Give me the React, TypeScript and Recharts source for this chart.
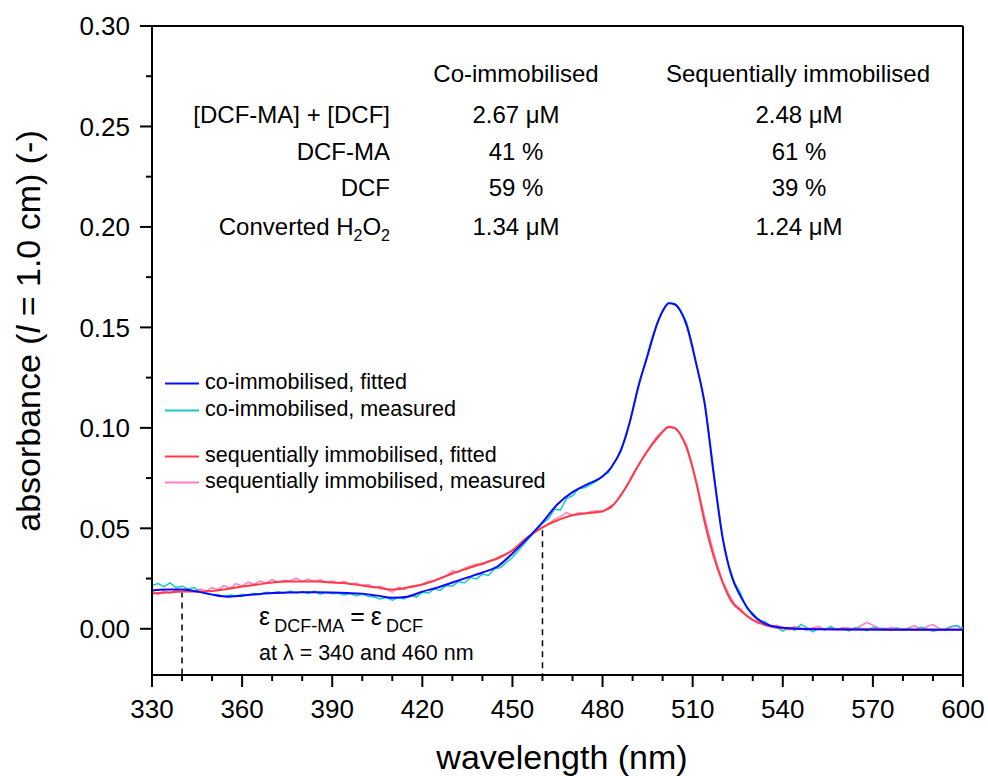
import React from 'react';
import { LineChart, Line, XAxis, YAxis, ReferenceLine } from 'recharts';

const FONT = '"Liberation Sans", Arial, Helvetica, sans-serif';

// ---- axis ticks ----
const xMajorTicks = [330, 360, 390, 420, 450, 480, 510, 540, 570, 600];
const xMinorTicks = [340, 350, 370, 380, 400, 410, 430, 440, 460, 470, 490, 500, 520, 530, 550, 560, 580, 590];
const yMajorTicks = [0, 0.05, 0.1, 0.15, 0.2, 0.25, 0.3];
const yMinorTicks = [0.025, 0.075, 0.125, 0.175, 0.225, 0.275];

// ---- fitted spectra ----
const fitNm = [
  330, 335, 340, 345, 350, 355, 360, 365, 370, 375,
  380, 385, 390, 395, 400, 405, 410, 415, 420, 425,
  430, 435, 440, 445, 450, 455, 460, 465, 470, 475,
  480, 483, 486, 489, 492, 495,
  498, 500, 502, 504, 506, 508, 511, 514, 517, 520, 523, 526,
  530, 535, 540, 550, 560, 580, 600,
];
const coFitted = [
  0.019, 0.0195, 0.0195, 0.0185, 0.017, 0.016, 0.0165, 0.0172, 0.0178, 0.018,
  0.0182, 0.0182, 0.018, 0.0178, 0.0175, 0.0165, 0.0155, 0.016, 0.0185, 0.0205,
  0.023, 0.0255, 0.028, 0.031, 0.0375, 0.045, 0.053, 0.062, 0.068, 0.072,
  0.0758, 0.0805, 0.0885, 0.1025, 0.121, 0.136,
  0.151, 0.158, 0.162, 0.1615, 0.158, 0.151, 0.133, 0.112, 0.077, 0.045, 0.026, 0.016,
  0.007, 0.002, 0.0005, -0.0002, -0.0003, -0.0005, -0.0005,
];
const seqFitted = [
  0.0175, 0.018, 0.0185, 0.0185, 0.0188, 0.0198, 0.021, 0.022, 0.023, 0.0235,
  0.0235, 0.0235, 0.023, 0.0225, 0.0215, 0.0205, 0.0195, 0.0205, 0.022, 0.0245,
  0.0275, 0.030, 0.0325, 0.035, 0.039, 0.0455, 0.0505, 0.054, 0.0565, 0.0575,
  0.0585, 0.0608, 0.0662, 0.0735, 0.0815, 0.0885,
  0.0945, 0.098, 0.1005, 0.1, 0.0965, 0.090, 0.074, 0.053, 0.036, 0.023, 0.0135, 0.009,
  0.0045, 0.0015, 0.0003, 0, -0.0002, -0.0003, -0.0004,
];

// ---- measured spectra ----
const measNm = [
  330, 332, 334, 336, 338, 340, 342, 344, 346, 348,
  350, 352, 354, 356, 358, 360, 362, 364, 366, 368,
  370, 372, 374, 376, 378, 380, 382, 384, 386, 388,
  390, 392, 394, 396, 398, 400, 402, 404, 406, 408,
  410, 412, 414, 416, 418, 420, 422, 424, 426, 428,
  430, 432, 434, 436, 438, 440, 442, 444, 446, 448,
  450, 452, 454, 456, 458, 460, 462, 464, 466, 468,
  470, 472, 474, 476, 478, 480, 482, 484, 486, 488,
  490, 492, 494, 496, 498, 500, 502, 504, 506, 508,
  510, 512, 514, 516, 518, 520, 522, 524, 526, 528,
  530, 532, 534, 536, 538, 540, 542, 544, 546, 548,
  550, 552, 554, 556, 558, 560, 562, 564, 566, 568,
  570, 572, 574, 576, 578, 580, 582, 584, 586, 588,
  590, 592, 594, 596, 598, 600,
];
const coMeasured = [
  0.0215, 0.0225, 0.021, 0.0228, 0.0205, 0.0212, 0.0198, 0.0205, 0.0185, 0.0178,
  0.0172, 0.0168, 0.0162, 0.0168, 0.0165, 0.017, 0.0168, 0.0175, 0.0172, 0.0182,
  0.0178, 0.0185, 0.0176, 0.0188, 0.0178, 0.0185, 0.0176, 0.0188, 0.0172, 0.0182,
  0.0175, 0.0178, 0.0168, 0.0176, 0.0165, 0.0172, 0.0162, 0.0158, 0.0148, 0.0156,
  0.0142, 0.0155, 0.0148, 0.0168, 0.0158, 0.0182, 0.0178, 0.0198, 0.0192, 0.0215,
  0.0212, 0.0235, 0.0228, 0.0255, 0.0248, 0.0272, 0.0265, 0.0298, 0.0305, 0.033,
  0.0355, 0.039, 0.0425, 0.0458, 0.0492, 0.0525, 0.0548, 0.0595, 0.0592, 0.0648,
  0.0662, 0.0698, 0.0702, 0.0718, 0.0735, 0.0762, 0.0778, 0.0832, 0.0878, 0.0965,
  0.1085, 0.1215, 0.1315, 0.1425, 0.1515, 0.1585, 0.1622, 0.1618, 0.1582, 0.1525,
  0.1405, 0.1265, 0.1125, 0.0905, 0.0665, 0.0455, 0.0315, 0.0228, 0.0175, 0.0102,
  0.0078, 0.0042, 0.0035, 0.0012, 0.0008, -0.0012, 0.0005, -0.0008, 0.0022, 0.0006,
  -0.0015, 0.0004, -0.0006, 0.0012, -0.0005, 0.0002, -0.0011, 0.0006, 0.0002, -0.0009,
  0.0008, 0.0002, 0.0003, -0.0006, 0.0004, -0.0002, 0.0001, -0.0005, 0.0008, -0.0001,
  -0.0012, -0.0006, -0.0003, 0.0012, 0.0016, -0.0002,
];
const seqMeasured = [
  0.0185, 0.0172, 0.0188, 0.0178, 0.0192, 0.0182, 0.0195, 0.0185, 0.0198, 0.0188,
  0.0205, 0.0195, 0.0215, 0.0202, 0.0225, 0.0212, 0.0232, 0.0222, 0.0238, 0.0228,
  0.0245, 0.0232, 0.0242, 0.0238, 0.0252, 0.0235, 0.0248, 0.0236, 0.0244, 0.0232,
  0.0238, 0.0228, 0.0235, 0.0222, 0.0228, 0.0215, 0.022, 0.0205, 0.0212, 0.0198,
  0.0182, 0.0208, 0.0196, 0.0212, 0.0215, 0.0222, 0.0235, 0.0238, 0.0252, 0.0262,
  0.0288, 0.0282, 0.0302, 0.0312, 0.0322, 0.0318, 0.0338, 0.0345, 0.0362, 0.0372,
  0.0392, 0.0418, 0.0445, 0.0462, 0.0492, 0.0502, 0.0522, 0.0545, 0.0558, 0.0578,
  0.0565, 0.0578, 0.0575, 0.0582, 0.0588, 0.0582, 0.0605, 0.0622, 0.0668, 0.0708,
  0.0768, 0.0815, 0.0868, 0.0912, 0.0955, 0.0985, 0.1002, 0.0998, 0.0968, 0.0915,
  0.0805, 0.0685, 0.0555, 0.0435, 0.0328, 0.0235, 0.0175, 0.0122, 0.0098, 0.0062,
  0.0042, 0.0025, 0.0038, 0.0012, 0.0018, 0.0005, -0.0006, 0.0012, 0.0002, -0.0008,
  0.0004, 0.0012, -0.0004, 0.0008, -0.0003, 0.0006, 0.0004, -0.0002, 0.0015, 0.0032,
  0.0018, 0.0004, -0.0006, 0.0008, 0.0002, -0.0008, 0.0006, 0.0015, -0.0004, 0.0012,
  0.0021, 0.0002, -0.0008, 0.0009, 0.0014, 0.0002,
];

// ---- table contents ----
const tableColumns = ['Co-immobilised', 'Sequentially immobilised'];
const coValues = ['2.67 \u03bcM', '41 %', '59 %', '1.34 \u03bcM'];
const seqValues = ['2.48 \u03bcM', '61 %', '39 %', '1.24 \u03bcM'];

const legendItems = [
  { label: 'co-immobilised, fitted', color: '#0a0aff' },
  { label: 'co-immobilised, measured', color: '#19c8c8' },
  { label: 'sequentially immobilised, fitted', color: '#ff3c46' },
  { label: 'sequentially immobilised, measured', color: '#ff7dc3' },
];

const toSeries = (nm: number[], vals: number[]) => nm.map((w, i) => ({ nm: w, v: vals[i] }));

const coFitData = toSeries(fitNm, coFitted);
const seqFitData = toSeries(fitNm, seqFitted);
const coMeasData = toSeries(measNm, coMeasured);
const seqMeasData = toSeries(measNm, seqMeasured);

const isIn = (arr: number[], v: number) => arr.some((t) => Math.abs(t - v) < 1e-9);

const XTick = (props: any) => {
  const { x, y, payload } = props;
  const v = payload.value;
  const major = isIn(xMajorTicks, v);
  return (
    <g>
      <line x1={x} x2={x} y1={y} y2={y + (major ? 12 : 6)} stroke="#000" strokeWidth={2} />
      {major && (
        <text x={x} y={y + 43} textAnchor="middle" fontSize={26} fontFamily={FONT} fill="#000">
          {v}
        </text>
      )}
    </g>
  );
};

const YTick = (props: any) => {
  const { x, y, payload } = props;
  const v = payload.value;
  const major = isIn(yMajorTicks, v);
  return (
    <g>
      <line x1={x} x2={x - (major ? 12 : 6)} y1={y} y2={y} stroke="#000" strokeWidth={2} />
      {major && (
        <text x={x - 22} y={y} dy="0.36em" textAnchor="end" fontSize={26} fontFamily={FONT} fill="#000">
          {v.toFixed(2)}
        </text>
      )}
    </g>
  );
};

const rowLabelY = [123, 160, 196, 235];

export default function App() {
  return (
    <div style={{ position: 'fixed', left: 0, top: 0, width: 988, height: 776, background: '#fff' }}>
      <LineChart width={988} height={776} margin={{ top: 26, right: 25, bottom: 0, left: 0 }}>
        <XAxis
          dataKey="nm"
          type="number"
          domain={[330, 600]}
          ticks={[...xMajorTicks, ...xMinorTicks].sort((a, b) => a - b)}
          interval={0}
          height={101}
          tickSize={0}
          tickMargin={0}
          tickLine={false}
          tick={<XTick />}
          axisLine={{ stroke: '#000', strokeWidth: 2 }}
          allowDataOverflow
        />
        <YAxis
          type="number"
          domain={[-0.023, 0.3]}
          ticks={[...yMajorTicks, ...yMinorTicks].sort((a, b) => a - b)}
          interval={0}
          width={152}
          tickSize={0}
          tickMargin={0}
          tickLine={false}
          tick={<YTick />}
          axisLine={{ stroke: '#000', strokeWidth: 2 }}
          allowDataOverflow
        />
        <ReferenceLine y={0.3} stroke="#000" strokeWidth={2} ifOverflow="extendDomain" />
        <ReferenceLine x={600} stroke="#000" strokeWidth={2} />
        <ReferenceLine
          segment={[{ x: 340, y: 0.0185 }, { x: 340, y: -0.023 }]}
          stroke="#000"
          strokeWidth={1.5}
          strokeDasharray="6 5"
        />
        <ReferenceLine
          segment={[{ x: 460, y: 0.049 }, { x: 460, y: -0.023 }]}
          stroke="#000"
          strokeWidth={1.5}
          strokeDasharray="6 5"
        />
        <Line data={seqMeasData} dataKey="v" type="linear" stroke={legendItems[3].color} strokeWidth={1.5} dot={false} isAnimationActive={false} />
        <Line data={coMeasData} dataKey="v" type="linear" stroke={legendItems[1].color} strokeWidth={1.5} dot={false} isAnimationActive={false} />
        <Line data={seqFitData} dataKey="v" type="monotone" stroke={legendItems[2].color} strokeWidth={2} dot={false} isAnimationActive={false} />
        <Line data={coFitData} dataKey="v" type="monotone" stroke={legendItems[0].color} strokeWidth={2} dot={false} isAnimationActive={false} />
      </LineChart>

      <svg
        width={988}
        height={776}
        style={{ position: 'absolute', left: 0, top: 0, pointerEvents: 'none' }}
        fontFamily={FONT}
        fill="#000"
      >
        {/* axis titles */}
        <text x={562} y={769} textAnchor="middle" fontSize={34}>wavelength (nm)</text>
        <text transform="translate(40,331) rotate(-90)" textAnchor="middle" fontSize={34}>
          absorbance (<tspan fontStyle="italic">l</tspan> = 1.0 cm) (-)
        </text>

        {/* table */}
        <text x={516} y={82} textAnchor="middle" fontSize={24}>{tableColumns[0]}</text>
        <text x={798} y={82} textAnchor="middle" fontSize={24}>{tableColumns[1]}</text>
        <text x={390} y={rowLabelY[0]} textAnchor="end" fontSize={24}>[DCF-MA] + [DCF]</text>
        <text x={390} y={rowLabelY[1]} textAnchor="end" fontSize={24}>DCF-MA</text>
        <text x={390} y={rowLabelY[2]} textAnchor="end" fontSize={24}>DCF</text>
        <text x={390} y={rowLabelY[3]} textAnchor="end" fontSize={24}>
          Converted H<tspan fontSize={16} dy={6}>2</tspan><tspan dy={-6}>O</tspan><tspan fontSize={16} dy={6}>2</tspan>
        </text>
        {coValues.map((s, i) => (
          <text key={'c' + i} x={516} y={rowLabelY[i]} textAnchor="middle" fontSize={24}>{s}</text>
        ))}
        {seqValues.map((s, i) => (
          <text key={'s' + i} x={799} y={rowLabelY[i]} textAnchor="middle" fontSize={24}>{s}</text>
        ))}

        {/* legend */}
        {legendItems.map((it, i) => {
          const base = [389, 416, 462, 488][i];
          return (
            <g key={it.label}>
              <line x1={165} x2={199} y1={base - 5.5} y2={base - 5.5} stroke={it.color} strokeWidth={2} />
              <text x={205} y={base} fontSize={21.5}>{it.label}</text>
            </g>
          );
        })}

        {/* annotation */}
        <text x={259} y={625} fontSize={25}>
          {'\u03b5'}<tspan fontSize={18} dx={4} dy={7}>DCF-MA</tspan>
          <tspan fontSize={25} dx={6} dy={-7}>=</tspan>
          <tspan fontSize={25} dx={6}>{'\u03b5'}</tspan>
          <tspan fontSize={18} dx={4} dy={7}>DCF</tspan>
        </text>
        <text x={259} y={660} fontSize={21.5}>at {'\u03bb'} = 340 and 460 nm</text>
      </svg>
    </div>
  );
}
